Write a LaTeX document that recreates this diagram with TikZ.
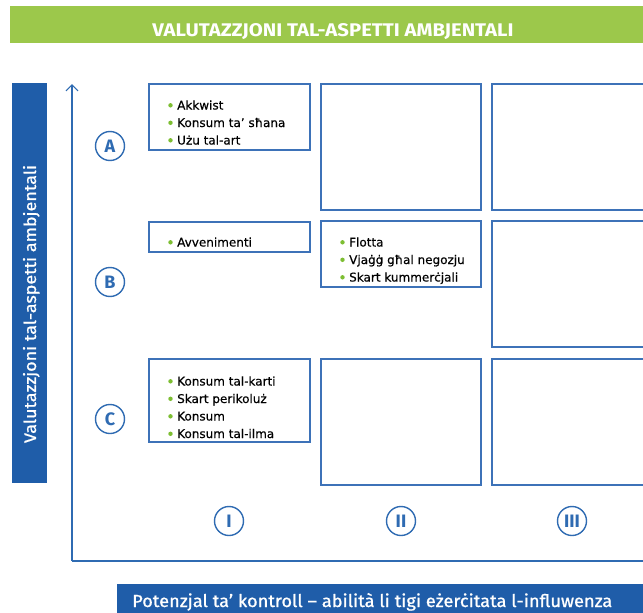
\documentclass[tikz,border=0pt]{standalone}
\usepackage{fontspec}
\usepackage{graphicx}
\setmainfont{DejaVu Sans}
\newfontfamily\itemfnt{DejaVu Sans}[FakeBold=0.4]
\newfontfamily\fira{Fira Sans}
\newfontfamily\firamed{Fira Sans}[FakeBold=0.9]
\usetikzlibrary{arrows.meta}
\definecolor{barblue}{HTML}{1F5DA9}
\definecolor{boxblue}{HTML}{3D72B8}
\definecolor{axisblue}{HTML}{2F6BB2}
\definecolor{titlegreen}{HTML}{9CC84B}
\definecolor{bulletgreen}{HTML}{7DBE32}
\begin{document}
\begin{tikzpicture}[x=1pt,y=-1pt,
  cell/.style={draw=boxblue, line width=1.3pt, fill=white, anchor=north west, inner sep=0, outer sep=0},
  item/.style={anchor=base west, inner sep=0, font=\itemfnt\fontsize{12}{14}\selectfont, text=black},
  mark circle/.style={circle, draw=axisblue, line width=1.4pt, minimum size=29pt, inner sep=0, text=axisblue, font=\fira\bfseries\fontsize{18}{18}\selectfont},
  axis/.style={draw=axisblue, line width=1.2pt},
  bar/.style={anchor=north west, inner sep=0, outer sep=0}]
\useasboundingbox (0,0) rectangle (643,613);
\clip (0,0) rectangle (643,613);
% title bar
\node[bar, fill=titlegreen, minimum width=640pt, minimum height=37pt] (titlebar) at (10,6) {};
\node[anchor=base, inner sep=0, text=white, font=\fira\bfseries] (title) at (333,37) {\resizebox{361pt}{13pt}{VALUTAZZJONI TAL-ASPETTI AMBJENTALI}};
% left bar
\node[bar, fill=barblue, minimum width=35pt, minimum height=400pt] (leftbar) at (12,83) {};
\node[rotate=90, anchor=base, inner sep=0, text=white, font=\firamed] (ylabel) at (36,304) {\resizebox{278pt}{13pt}{Valutazzjoni tal-aspetti ambjentali}};
% bottom bar
\node[bar, fill=barblue, minimum width=540pt, minimum height=36pt] (bottombar) at (117,584) {};
\node[anchor=base west, inner sep=0, text=white, font=\firamed] (xlabel) at (132,607) {\resizebox{480pt}{14pt}{Potenzjal ta’ kontroll – abilità li tigi eżerċitata l-influwenza}};
% axes
\coordinate (origin) at (72,561);
\coordinate (ytop) at (72,84);
\coordinate (xend) at (650,561);
\draw[axis, -{Straight Barb[length=6pt,width=12pt]}] (origin) -- (ytop);
\draw[axis] (origin) -- (xend);
% boxes row A
\node[cell, minimum width=161pt, minimum height=66pt] (A1) at (149,84) {};
\node[cell, minimum width=160pt, minimum height=126pt] (A2) at (321,84) {};
\node[cell, minimum width=170pt, minimum height=126pt] (A3) at (492,84) {};
% row B
\node[cell, minimum width=161pt, minimum height=30pt] (B1) at (149,222) {};
\node[cell, minimum width=160pt, minimum height=66pt] (B2) at (321,221) {};
\node[cell, minimum width=170pt, minimum height=126pt] (B3) at (492,221) {};
% row C
\node[cell, minimum width=161pt, minimum height=83pt] (C1) at (149,359) {};
\node[cell, minimum width=160pt, minimum height=126pt] (C2) at (321,359) {};
\node[cell, minimum width=170pt, minimum height=126pt] (C3) at (492,359) {};
% items
\node[item] (a1) at (177,109.5) {Akkwist};
\node[item] (a2) at (177,127) {Konsum ta’ sħana};
\node[item] (a3) at (177,144.5) {Użu tal-art};
\node[item] (b1) at (177,246.5) {Avvenimenti};
\node[item] (f1) at (349,246.5) {Flotta};
\node[item] (f2) at (349,264) {Vjaġġ għal negozju};
\node[item] (f3) at (349,281.5) {Skart kummerċjali};
\node[item] (c1) at (177,385.5) {Konsum tal-karti};
\node[item] (c2) at (177,403) {Skart perikoluż};
\node[item] (c3) at (177,420.5) {Konsum};
\node[item] (c4) at (177,438) {Konsum tal-ilma};
\foreach \n in {a1,a2,a3,b1,f1,f2,f3,c1,c2,c3,c4}
  \fill[bulletgreen] ([xshift=-6.5pt,yshift=4.2pt]\n.base west) circle (2.2pt);
% row / column markers
\node[mark circle] (mA) at (110,146) {A};
\node[mark circle] (mB) at (110,282) {B};
\node[mark circle] (mC) at (110,419) {C};
\node[mark circle] (mI) at (229,521) {I};
\node[mark circle] (mII) at (401,521) {II};
\node[mark circle] (mIII) at (572,521) {III};
\end{tikzpicture}
\end{document}
